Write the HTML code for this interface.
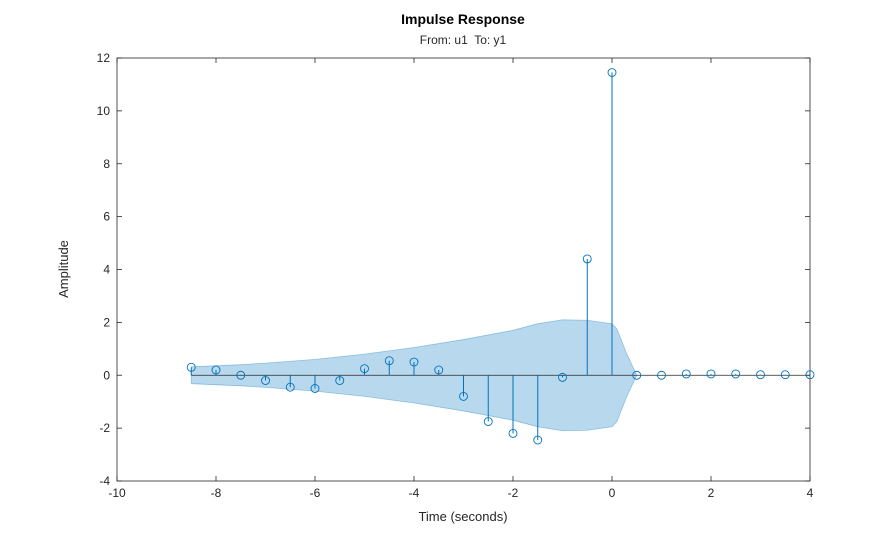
<!DOCTYPE html>
<html><head><meta charset="utf-8"><style>
body{margin:0;background:#fff;}
svg{display:block;font-family:"Liberation Sans",sans-serif;}
</style></head><body>
<svg id="s" width="895" height="540" xmlns="http://www.w3.org/2000/svg"></svg>
<script>
const s=document.getElementById('s');
const X=t=>117+(t+10)*49.5, Y=v=>58+(12-v)*26.4375;
let h='';
const band=[[-8.5,0.32],[-7.5,0.4],[-7,0.46],[-6,0.6],[-5,0.8],[-4,1.05],[-3,1.35],[-2,1.7],[-1.5,1.95],[-1,2.1],[-0.5,2.08],[0,1.95],[0.1,1.75],[0.3,0.8],[0.5,0]];
let p=band.map(d=>X(d[0])+','+Y(d[1])).join(' ')+' '+band.slice(0,-1).reverse().map(d=>X(d[0])+','+Y(-d[1])).join(' ');
h+=`<polygon points="${p}" fill="#0072BD" fill-opacity="0.28" stroke="#0072BD" stroke-opacity="0.35" stroke-width="0.8"/>`;
h+=`<rect x="117" y="58" width="693" height="423" fill="none" stroke="#262626" stroke-width="0.8"/>`;
for(let t=-10;t<=4;t+=2){const x=X(t);h+=`<line x1="${x}" y1="481" x2="${x}" y2="476" stroke="#262626" stroke-width="0.8"/><line x1="${x}" y1="58" x2="${x}" y2="63" stroke="#262626" stroke-width="0.8"/><text x="${x}" y="497" font-size="12" text-anchor="middle" fill="#262626">${t}</text>`;}
for(let v=-4;v<=12;v+=2){const y=Y(v);h+=`<line x1="117" y1="${y}" x2="122" y2="${y}" stroke="#262626" stroke-width="0.8"/><line x1="810" y1="${y}" x2="805" y2="${y}" stroke="#262626" stroke-width="0.8"/><text x="110" y="${y+4}" font-size="12" text-anchor="end" fill="#262626">${v}</text>`;}
h+=`<line x1="${X(-8.5)}" y1="${Y(0)}" x2="${X(4)}" y2="${Y(0)}" stroke="#262626" stroke-width="0.8"/>`;
const d=[0.3,0.2,0,-0.2,-0.45,-0.5,-0.2,0.25,0.55,0.5,0.2,-0.8,-1.75,-2.2,-2.45,-0.08,4.4,11.45,0,0,0.05,0.05,0.05,0.02,0.02,0.02];
d.forEach((v,i)=>{const t=-8.5+i*0.5,x=X(t),y=Y(v);
h+=`<line x1="${x}" y1="${Y(0)}" x2="${x}" y2="${y}" stroke="#0072BD" stroke-width="1"/><circle cx="${x}" cy="${y}" r="4" fill="none" stroke="#0072BD" stroke-width="0.9"/>`;});
h+=`<text x="463" y="24" font-size="14" font-weight="bold" text-anchor="middle" fill="#000">Impulse Response</text>`;
h+=`<text x="463" y="44" font-size="12" text-anchor="middle" fill="#262626">From: u1&#160; To: y1</text>`;
h+=`<text x="463" y="521" font-size="13" text-anchor="middle" fill="#262626">Time (seconds)</text>`;
h+=`<text transform="translate(68,269) rotate(-90)" font-size="13" text-anchor="middle" fill="#262626">Amplitude</text>`;
s.innerHTML=h;
</script>
</body></html>
